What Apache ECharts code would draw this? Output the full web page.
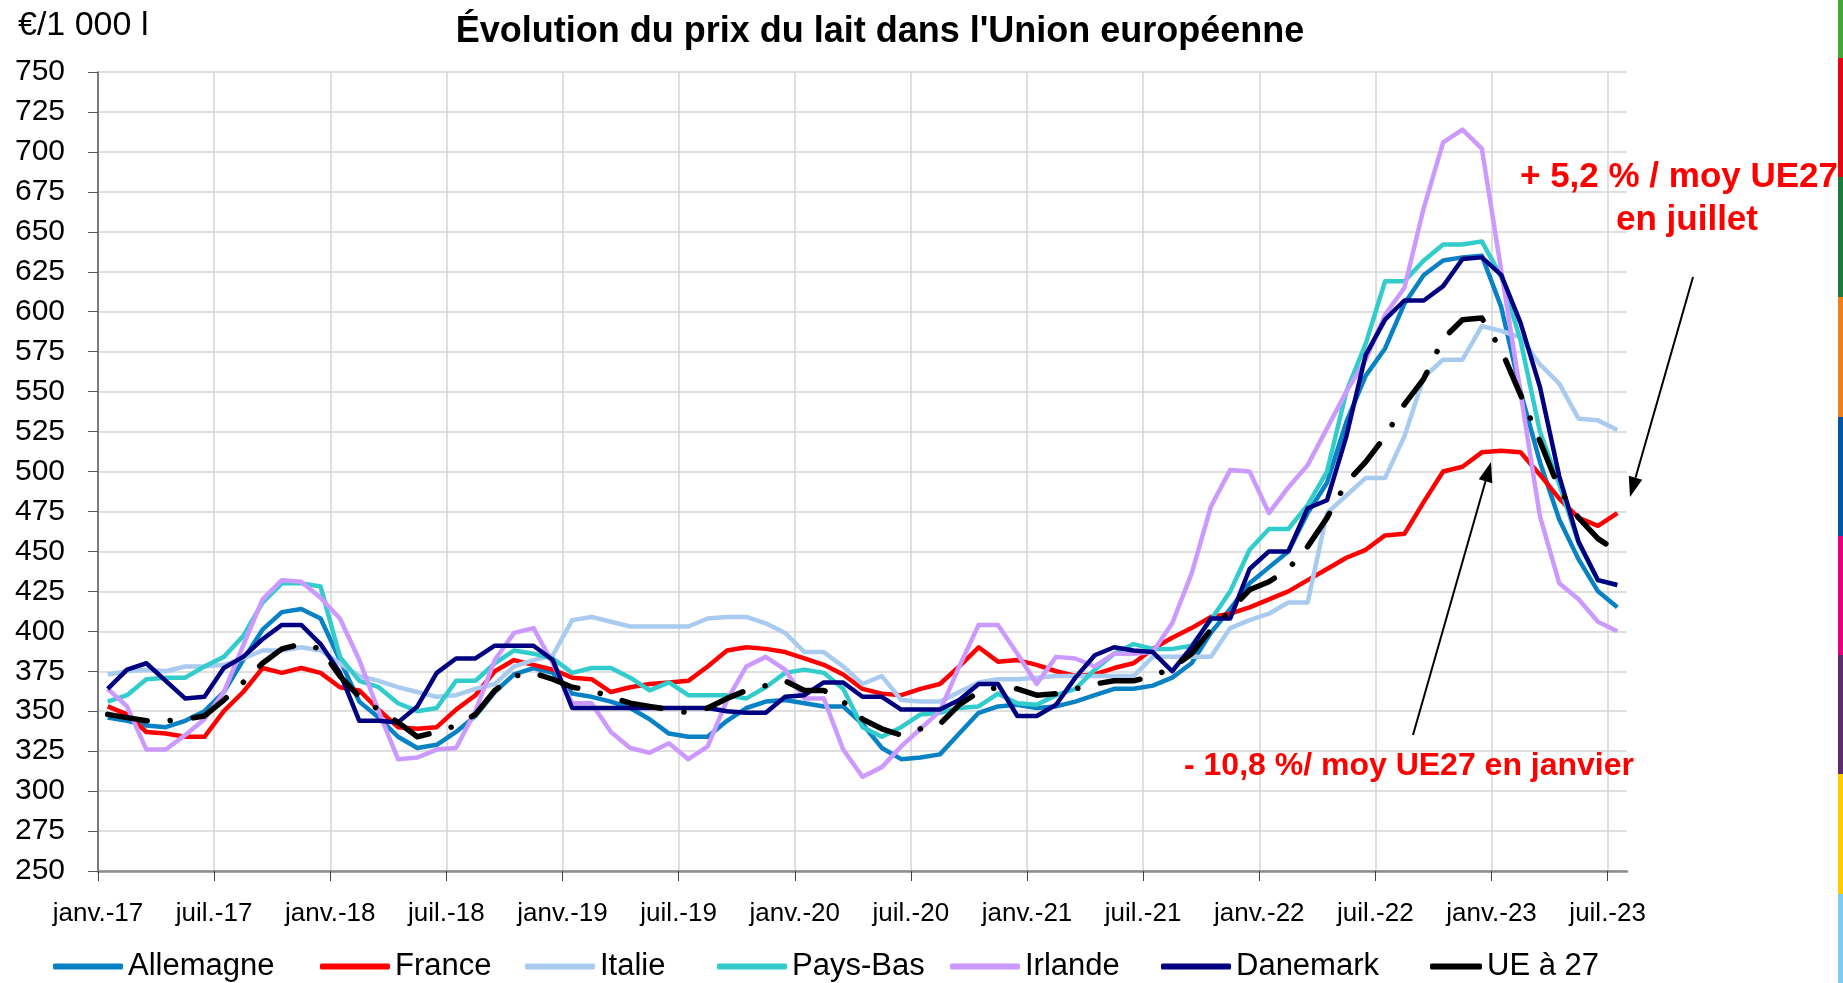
<!DOCTYPE html>
<html lang="fr">
<head>
<meta charset="utf-8">
<title>Évolution du prix du lait dans l'Union européenne</title>
<script src="https://cdn.jsdelivr.net/npm/echarts@6/dist/echarts.min.js"></script>
<style>
  html, body { margin: 0; padding: 0; background: #ffffff; }
  #chart { width: 1843px; height: 983px; }
</style>
</head>
<body>
<div id="chart"></div>
<script>
// prix du lait payé au producteur, en €/1 000 l, de janv. 2017 à juil. 2023
const monthNames = ['janv.', 'févr.', 'mars', 'avr.', 'mai', 'juin', 'juil.', 'août', 'sept.', 'oct.', 'nov.', 'déc.'];
const years = ['17', '18', '19', '20', '21', '22', '23'];
const months = [];
years.forEach(y => monthNames.forEach(m => months.push(m + '-' + y)));
const categories = months.slice(0, 79);   // un point par mois
const tickLabels = months.slice(0, 80);   // bornes des mois, pour les graduations

const allemagne = [346, 344, 341, 340, 344, 350, 362, 382, 401, 412, 414, 408, 382, 356, 346, 334, 327, 329, 337, 347,
  362, 373, 377, 374, 361, 359, 356, 352, 345, 336, 334, 334, 344, 352, 356, 357, 355, 353, 353, 342,
  327, 320, 321, 323, 336, 349, 353, 354, 352, 353, 356, 360, 364, 364, 366, 371, 380, 399, 414, 430,
  440, 450, 474, 493, 531, 560, 577, 605, 623, 632, 634, 635, 603, 550, 506, 470, 445, 425, 415];
const france = [353, 348, 337, 336, 334, 334, 350, 362, 377, 374, 377, 374, 365, 363, 351, 340, 339, 340, 351, 360,
  375, 382, 379, 376, 371, 370, 362, 365, 367, 368, 369, 378, 388, 390, 389, 387, 383, 379, 373, 364,
  361, 360, 364, 367, 378, 390, 381, 382, 379, 375, 372, 373, 377, 380, 389, 396, 402, 409, 411, 415,
  420, 425, 432, 439, 446, 451, 460, 461, 481, 500, 503, 512, 513, 512, 498, 483, 471, 466, 474];
const italie = [373, 375, 376, 375, 378, 378, 379, 383, 388, 388, 390, 388, 380, 372, 369, 365, 362, 359, 360, 364,
  367, 378, 382, 385, 407, 409, 406, 403, 403, 403, 403, 408, 409, 409, 405, 399, 387, 387, 378, 367,
  372, 357, 356, 356, 362, 368, 370, 370, 371, 372, 372, 372, 372, 372, 384, 384, 384, 384, 402, 407,
  411, 418, 418, 474, 485, 496, 496, 522, 559, 570, 570, 591, 588, 584, 567, 555, 533, 532, 526];
const paysBas = [356, 360, 370, 371, 371, 378, 384, 397, 418, 430, 430, 428, 384, 369, 365, 355, 350, 352, 369, 369,
  380, 388, 386, 383, 374, 377, 377, 371, 363, 368, 360, 360, 360, 358, 365, 374, 376, 374, 364, 340,
  334, 340, 348, 349, 352, 353, 361, 355, 354, 360, 364, 376, 386, 392, 389, 389, 391, 407, 425, 451,
  464, 464, 479, 500, 550, 580, 619, 619, 632, 642, 642, 644, 622, 582, 525, 492, 455, 432, 429];
const irlande = [364, 353, 326, 326, 335, 345, 362, 391, 420, 432, 431, 421, 408, 382, 350, 320, 321, 326, 327, 350,
  382, 399, 402, 380, 355, 355, 337, 327, 324, 330, 320, 328, 357, 378, 384, 376, 358, 358, 326, 309,
  315, 328, 339, 350, 378, 404, 404, 386, 367, 384, 383, 378, 386, 386, 387, 405, 436, 478, 501, 500,
  474, 490, 504, 527, 550, 570, 598, 615, 665, 706, 714, 702, 626, 549, 472, 430, 420, 406, 400];
const danemark = [364, 376, 380, 369, 358, 359, 377, 384, 395, 404, 404, 392, 374, 344, 344, 343, 353, 374, 383, 383,
  391, 391, 391, 382, 352, 352, 352, 352, 352, 352, 352, 352, 350, 349, 349, 359, 360, 368, 368, 359,
  359, 351, 351, 351, 357, 367, 367, 347, 347, 354, 371, 385, 390, 388, 387, 375, 390, 408, 408, 439,
  450, 450, 477, 482, 522, 573, 595, 607, 607, 616, 633, 634, 623, 593, 553, 497, 456, 432, 429];
const ue27 = [348, 346, 344, 344, 345, 347, 357, 368, 380, 389, 392, 389, 372, 359, 351, 343, 334, 337, 341, 348,
  363, 372, 374, 370, 365, 363, 359, 355, 353, 351, 349, 352, 358, 363, 366, 369, 363, 363, 356, 345,
  339, 335, 339, 342, 354, 362, 365, 364, 360, 361, 364, 367, 369, 369, 372, 377, 386, 401, 413, 426,
  431, 439, 453, 471, 493, 506, 522, 542, 558, 583, 595, 596, 576, 548, 519, 489, 471, 458, 450];

const FONT = '"Liberation Sans", Arial, sans-serif';

const lines = [
  { name: 'Allemagne', data: allemagne, color: '#0882C4' },
  { name: 'France', data: france, color: '#FF0000' },
  { name: 'Italie', data: italie, color: '#A9CBF0' },
  { name: 'Pays-Bas', data: paysBas, color: '#33CCCC' },
  { name: 'Irlande', data: irlande, color: '#CC99FF' },
  { name: 'Danemark', data: danemark, color: '#000080' },
  { name: 'UE à 27', data: ue27, color: '#000000' }
];
const legendLeft = [53, 320, 525, 717, 950, 1161, 1430];

// flèche noire d'annotation (coordonnées en pixels)
function arrow(x1, y1, x2, y2) {
  const a = Math.atan2(y2 - y1, x2 - x1), len = 20, half = 7;
  const bx = x2 - len * Math.cos(a), by = y2 - len * Math.sin(a);
  const nx = -Math.sin(a) * half, ny = Math.cos(a) * half;
  return [
    { type: 'line', z: 100, shape: { x1: x1, y1: y1, x2: bx, y2: by }, style: { stroke: '#000', lineWidth: 2 } },
    { type: 'polygon', z: 100, shape: { points: [[x2, y2], [bx + nx, by + ny], [bx - nx, by - ny]] }, style: { fill: '#000' } }
  ];
}

// bande de couleurs sur le bord droit
const edgeColors = ['#45A538', '#E30613', '#1B7A3E', '#F07E1B', '#0055A4', '#E6007E', '#5B2D6E', '#FFCC00', '#7BCBF2'];
const edgeStops = [0, 58, 177, 297, 417, 536, 655, 774, 894, 983];

const redText = (text, x, y, size) => ({
  type: 'text', z: 100, x: x, y: y,
  style: { text: text, fontFamily: FONT, fontSize: size, fontWeight: 'bold', fill: '#FF0000', align: 'center', verticalAlign: 'middle' }
});

const chart = echarts.init(document.getElementById('chart'));
chart.setOption({
  animation: false,
  backgroundColor: '#ffffff',
  title: {
    text: "Évolution du prix du lait dans l'Union européenne",
    left: 880, top: 14, padding: 0, textAlign: 'center',
    textStyle: { fontFamily: FONT, fontSize: 36, fontWeight: 'bold', color: '#000' }
  },
  legend: lines.map((s, i) => ({
    data: [s.name],
    left: legendLeft[i], top: 951, padding: 0,
    icon: 'roundRect', itemWidth: s.name === 'UE à 27' ? 52 : 70, itemHeight: 6,
    textStyle: { fontFamily: FONT, fontSize: 31, color: '#000' }
  })),
  grid: { left: 98, right: 216, top: 72, bottom: 112 },
  xAxis: [
    { type: 'category', data: categories, boundaryGap: true, show: false },
    {
      type: 'category', data: tickLabels, boundaryGap: false, position: 'bottom',
      axisLine: { show: true, lineStyle: { color: '#8C8C8C', width: 2.5 } },
      axisTick: { show: true, interval: 5, length: 10, lineStyle: { color: '#404040', width: 1 } },
      axisLabel: { interval: 5, margin: 30, fontFamily: FONT, fontSize: 26, color: '#000' },
      splitLine: { show: true, interval: 5, lineStyle: { color: '#D4D4D4', width: 1.5 } }
    }
  ],
  yAxis: {
    type: 'value', min: 250, max: 750, interval: 25,
    axisLine: { show: true, lineStyle: { color: '#595959', width: 1.5 } },
    axisTick: { show: true, length: 10, lineStyle: { color: '#595959' } },
    axisLabel: { margin: 33, fontFamily: FONT, fontSize: 30, color: '#000' },
    splitLine: { lineStyle: { color: '#D4D4D4', width: 1.5 } }
  },
  series: lines.map(s => ({
    name: s.name, type: 'line', data: s.data, xAxisIndex: 0,
    symbol: 'none', smooth: false, color: s.color,
    lineStyle: s.name === 'UE à 27'
      ? { color: s.color, width: 5.5, type: [40, 23, 0.1, 23], cap: 'round', join: 'round' }
      : { color: s.color, width: 4.5, join: 'round' },
    emphasis: { disabled: true }
  })),
  graphic: [
    { type: 'text', x: 18, y: 26, style: { text: '€/1 000 l', fontFamily: FONT, fontSize: 34, fill: '#000', verticalAlign: 'middle' } },
    redText('+ 5,2 % / moy UE27', 1679, 177, 35),
    redText('en juillet', 1687, 220, 35),
    redText('- 10,8 %/ moy UE27 en janvier', 1409, 766, 32),
    ...arrow(1693, 277, 1630, 497),
    ...arrow(1413, 735, 1491, 462),
    ...edgeColors.map((c, i) => ({
      type: 'rect', shape: { x: 1838, y: edgeStops[i], width: 5, height: edgeStops[i + 1] - edgeStops[i] }, style: { fill: c }
    }))
  ]
});
</script>
</body>
</html>
